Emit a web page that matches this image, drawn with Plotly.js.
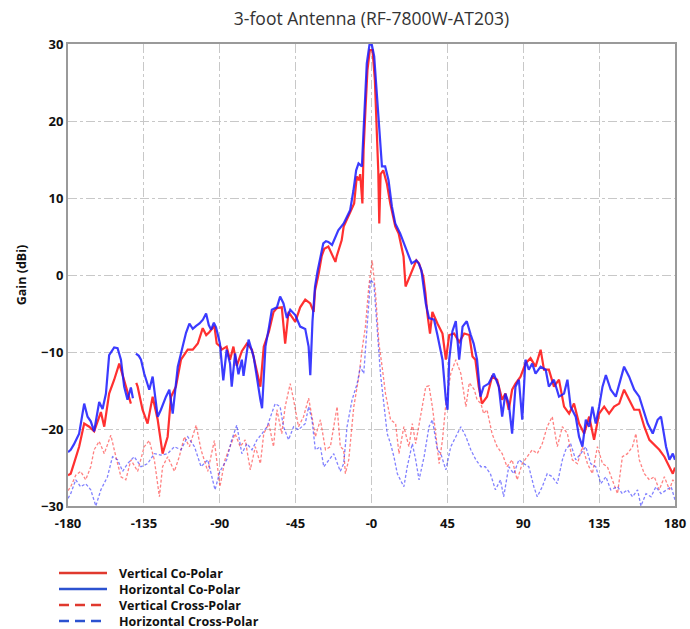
<!DOCTYPE html>
<html>
<head>
<meta charset="utf-8">
<script src="https://cdn.plot.ly/plotly-3.0.1.min.js"></script>
<style>html,body{margin:0;padding:0;background:#fff;}#chart{width:690px;height:629px;}</style>
</head>
<body>
<div id="chart"></div>
<script>
// ---- Data (angle in degrees, gain in dBi) ----
const seriesNames = ["Vertical Co-Polar", "Horizontal Co-Polar", "Vertical Cross-Polar", "Horizontal Cross-Polar"];

const hcoAngle = [-180,-178.4,-176.5,-173.4,-170.4,-168.4,-166.5,-164.5,-161.5,-159.5,-157.5,-155.6,-152.6,-150.6,-148.6,-146.7,-144.7,-142.7,-141.5,-140.5,-139.7,-138,-136.7,-134.8,-131.8,-129.8,-126.8,-124.9,-121.9,-119.9,-117.9,-114.9,-112,-110,-108,-106,-104,-102,-100,-98.1,-96.5,-95.1,-93.5,-92.2,-89.9,-87.9,-85.9,-83.9,-82.9,-80.9,-78.9,-76.9,-75.9,-72.9,-69.9,-67.9,-65.9,-64.9,-62.9,-60.9,-59.1,-56.1,-54.2,-52.2,-50.2,-48.2,-45.2,-42.3,-39.3,-37.3,-36.3,-35,-33.5,-32,-30,-28.6,-27,-25.6,-23.4,-22,-19.7,-16.5,-14.7,-12.7,-10.7,-9.1,-7.7,-5.7,-4.7,-3.8,-2.8,-1.2,0.2,1.6,3.2,4.8,6.2,8.1,10.1,12.1,14.1,17,20,22,23.8,26.6,28,29.6,31,32.2,34.1,37.1,39.1,42.1,44.1,45.1,46.1,48,50,52,54,56.5,58.9,60.6,62.6,64.6,66.5,69.5,72.5,75.5,77.5,79.4,81.4,83.4,85.4,87.4,89.4,91.3,93.3,95.3,97.3,100.3,103.3,105.2,108.2,111.2,114.2,116.2,118.1,121.1,123.1,125.1,127.1,129.1,131,133,135,137,139,141.9,144.9,147.5,149.8,152.8,155.8,158.8,160.8,163.8,166.8,169.7,171.7,174.7,176.7,178.7,180];
const hcoGain = [-23,-22.7,-22,-20.6,-16.7,-18.4,-19,-20.3,-16.5,-17.4,-15.4,-10.4,-9.4,-9.5,-11,-14.5,-16.2,-14.6,-16,null,-10.2,-10.5,-11,-12.8,-14.9,-13.2,-18.4,-17.5,-15.8,-14.9,-18,-11.9,-9.3,-7.5,-6.3,-7,-6.6,-6.3,-5.8,-5,-6.5,-7.1,-6.2,-6.8,-8.9,-13.7,-9.7,-11.5,-14.5,-10.2,-12.9,-11,-13.1,-8.4,-10.6,-13.7,-16.2,-17.3,-9.3,-6.9,-4.5,-4.2,-2.8,-3.7,-5.6,-4.5,-5.2,-6.7,-7,-9.3,-13,-6,-1.5,0.5,2.5,4.1,4.4,4.3,3.9,4.7,5.8,6.7,7.6,8.4,11,13.6,14.5,14.1,18.8,23.2,27.5,29.9,29.9,28.4,23.2,17.5,14.1,14.1,12.3,8.9,6.7,5.4,3.7,2.5,1.5,1.9,1.5,0.6,-1.5,-3.7,-5.6,-5.8,-7.8,-11,-16.2,-17.5,-11,-7.3,-6,-11,-6.7,-6,-7.8,-8.9,-11,-15.8,-14.5,-14.1,-12.8,-14.5,-18.4,-15.4,-16.7,-20.6,-14.5,-13.6,-18.8,-11,-12.3,-11.5,-12.8,-11.9,-12.3,-14.5,-13.6,-15.8,-15.4,-13.6,-17.1,-18.4,-21,-22.3,-18.8,-19.7,-17.1,-19.3,-17.1,-14.5,-13,-14.9,-15.8,-13.6,-11.9,-13.2,-14.9,-15.8,-17.1,-19.3,-20.6,-18.8,-18.4,-22.3,-24,-23.2,-24];

const vcoAngle = [-180,-178.4,-176.5,-173.4,-170.4,-167.4,-164.5,-160.5,-158.5,-155.6,-152.6,-149.6,-147.6,-144.7,-142.7,-141.5,-139.5,-138.7,-135.8,-132.8,-129.8,-126.8,-123.9,-120.9,-118.9,-116,-113,-109,-106,-103,-100.1,-98,-96.1,-93.2,-91.8,-89.6,-88.9,-85.9,-83.9,-81.9,-79.9,-76.9,-73.9,-70.9,-67.9,-65.9,-63.9,-60.9,-58.1,-56.1,-53.2,-51.2,-49.2,-45.2,-42.3,-39.3,-36.3,-34.3,-33.5,-31.5,-29.5,-28,-25.6,-23.5,-21.4,-20.7,-17.7,-16.5,-14.7,-12.5,-10.3,-8.7,-7.5,-6.7,-5.4,-4.7,-3.6,-2.4,-1,0.6,2,3,4,4.6,5.4,7,9.1,11.1,14.1,16.1,18,19,20.2,22.8,24.2,26.6,28.2,30.7,32,33.1,34.7,36.1,39.1,42.1,44.1,46.1,49,52,55,58,59.9,61.6,63.6,65.5,68.5,71.5,74.5,77.5,79.4,81.4,83.4,85.4,88.4,91.3,94.3,97.3,100.3,102.3,105.2,108.2,111.2,114.2,117.2,120.1,123.1,126.1,129.1,132,135,138,140.9,143.9,146.9,149.8,152.8,155.8,158.8,161.8,164.8,167.7,170.7,173.7,176.7,178.7,180];
const vcoGain = [-26,-25.8,-24.5,-22.3,-19.3,-19.7,-20.3,-17.8,-19.7,-15.4,-13.6,-11.5,-13,-15.2,-16.7,null,-14,-14.5,-17.5,-19.3,-15.8,-18.8,-23.2,-21,-15.8,-14.5,-11,-9.7,-9.7,-8.9,-6.9,-7.8,-7.4,-6.6,-8.9,-9.3,-9.7,-9.3,-11,-9.3,-11.8,-9.9,-8.9,-9.7,-12.6,-14.5,-9.3,-7.4,-4.8,-4.3,-4.2,-8.9,-4.8,-6.1,-4.2,-3.2,-3.7,-4.8,-2,0,2.5,3.4,3.7,2.8,1.7,2.4,4.5,6.3,7.1,8.2,9.3,12.8,12.3,13.1,9.3,16.2,21.4,26.6,29.2,29.2,25.3,18.8,13.6,6.7,13.1,13.6,11.9,9.3,6.3,5.4,3.7,2.4,-1.5,-0.2,0.6,1.9,1.5,-0.2,-2.4,-5,-7.6,-4.8,-6.3,-7.6,-11,-7.8,-7.6,-8.7,-7.6,-7.8,-10.6,-11,-14.5,-16.7,-15.8,-13.2,-13.6,-16.2,-15.4,-17.5,-14.9,-14.1,-13.2,-11.5,-10.8,-11.9,-9.7,-12.3,-12.3,-14.5,-13.6,-17.1,-18,-16.7,-19.3,-20.6,-18.4,-21.4,-18,-17.1,-18,-17.1,-16.7,-14.9,-16.2,-17.5,-17.5,-19.7,-21.4,-22,-22.7,-23.6,-24.9,-25.8,-25];

const vxAngle = [-180,-178.4,-175.4,-172.5,-169.5,-166.5,-164.5,-161.5,-158.5,-154.6,-151.6,-148.6,-145.7,-142.7,-138.7,-134.8,-131.8,-128.8,-125.8,-123.9,-120.9,-116.9,-114,-111,-108,-104,-101.1,-97.1,-93.2,-89.9,-86.9,-83.9,-80.9,-77.9,-74.9,-71.9,-68.9,-65.9,-63.9,-60.9,-58.1,-56.1,-53.2,-51.2,-48.2,-46.2,-43.3,-40.3,-37.3,-35.3,-33.3,-30.3,-27.3,-24.4,-20.4,-18.5,-16.5,-15.5,-13.5,-10.5,-7.5,-5.6,-3.6,-1.6,0.4,2.4,4.4,6.3,8.3,11.3,14.3,16.3,19.2,22.2,24.2,26.2,29.2,32.2,34.1,36.1,38.1,40.1,42.1,44.1,47,50,53,56,58,61,62.6,64.9,66.5,68.5,71.5,74.5,77.5,80.4,83.4,86.4,89.4,92.3,95.3,98.3,101.3,104.2,107.2,110.2,113.2,116.2,119.1,122.1,125.1,128.1,131,134,137,139.9,142.9,145.9,148.8,151.8,154.8,156.8,158.8,161.8,164.8,167.7,170.7,173.7,176.7,178.7,180];
const vxGain = [-28,-27.5,-26,-25.5,-26.6,-24.9,-22.7,-21.6,-23.2,-20.8,-23.6,-26.2,-26.6,-24,-25.5,-22.3,-21.5,-24,-28.8,-24.9,-23.6,-25.5,-23.6,-21,-22.3,-19.5,-22.7,-25.5,-21.5,-27.5,-24,-22.3,-20.6,-22.3,-21.4,-25.3,-22.3,-24.5,-20.6,-19.3,-22.3,-17.5,-20.6,-17.1,-14.1,-16.2,-19.7,-18.4,-16,-18.4,-21,-18.8,-22.7,-22.3,-17.1,-22.3,-22.7,-25.8,-24,-17.1,-13.2,-9.7,-6.7,-1.5,1.9,-2.4,-8.9,-11.9,-15.4,-18.8,-19.3,-23.2,-19.7,-22.3,-19.3,-21.9,-18,-14.5,-14.4,-17.1,-20.6,-24.5,-21.4,-16.7,-12.8,-11,-12.8,-17.1,-14,-14.9,-16.2,-16.7,-18,-17.5,-20.6,-22.3,-23.2,-24.9,-24,-26.6,-24.5,-23.6,-22.7,-23.2,-21.9,-19.7,-18.4,-22.3,-19.7,-20.6,-24,-24.5,-22.3,-24.5,-25.8,-22.3,-24.5,-24.9,-26.6,-28.4,-23.6,-23.2,-22.3,-20.6,-24,-25.8,-26.6,-26.2,-27.9,-26.2,-27.9,-26.6,-27];

const hxAngle = [-180,-178.4,-175.4,-172.5,-169.5,-166.5,-163.5,-160.5,-156.6,-153.6,-150.6,-147.6,-144.7,-140.7,-136.7,-132.8,-128.8,-124.9,-120.9,-116.9,-113,-109,-105,-101.1,-97.1,-95.8,-92.8,-89.9,-85.9,-82.9,-79.9,-76.9,-73.9,-70.9,-67.9,-64.9,-61.9,-59.1,-57.1,-54.2,-52.2,-49.2,-46.2,-43.3,-39.3,-37.3,-35.3,-33.3,-30.3,-28.3,-25.4,-22.4,-18.5,-16.5,-14.5,-11.5,-8.5,-6.6,-4.6,-2.6,-0.6,1.4,3.4,5.3,7.3,9.3,11.3,13.3,15.3,17.3,19.2,21.2,24.2,26.2,28.2,31.2,34.1,36.1,39.1,41.1,44.1,47,50,53,56,58.9,61.9,64.9,67.5,70.5,73.5,76.5,78.4,81.4,84.4,87.4,90.3,93.3,96.3,98.3,101.3,104.2,107.2,110.2,113.2,115.2,118.1,121.1,124.1,127.1,130,133,136,139,141.9,145.9,148.8,151.8,154.8,157.8,159.8,162.8,165.8,168.7,171.7,174.7,177.7,180];
const hxGain = [-29,-28.4,-26.6,-27.5,-27.1,-27.9,-30,-27.9,-26.2,-23.6,-24,-25.5,-24.5,-23.6,-24.9,-24.5,-23.2,-23.4,-23.2,-22.3,-22.7,-21,-22.3,-24.9,-24,-25.3,-27.9,-25.5,-24,-21.4,-19.5,-23.2,-21.9,-22.7,-21.4,-20.6,-19.7,-17.9,-16.7,-17.1,-19.7,-21.4,-19.7,-20.1,-19.3,-17.1,-18.8,-22.7,-22.3,-24.9,-24,-23.2,-25.5,-24.5,-19.7,-16.2,-14.1,-11.9,-12.8,-6.3,-0.6,-1.1,-6.7,-12.8,-16.7,-20.6,-21.9,-23.6,-25.8,-26.6,-27.5,-24.9,-21.9,-24,-26.6,-23.6,-19.7,-18.8,-22.7,-23.2,-25.3,-22.3,-21,-19.7,-21,-22.7,-24,-24.9,-24.9,-25.8,-27.9,-26.6,-28.8,-24.9,-25.8,-24,-24.5,-24.9,-27.5,-28.8,-27.5,-25.8,-26.2,-27.1,-24,-22.7,-21.9,-24,-23.2,-22.3,-24.5,-24.9,-27.1,-26.2,-27.9,-27.5,-28.4,-27.9,-28.8,-27.9,-30,-28.4,-28.8,-27.5,-28.4,-27.9,-27.5,-29.2];

const xTickVals = [-180,-135,-90,-45,0,45,90,135,180];
const xTickText = ["-180","-135","-90","-45","-0","45","90","135","180"];
const yTickVals = [-30,-20,-10,0,10,20,30];

// ---- Styles ----
const RED = "#ff1a1a", BLUE = "#1a1aff";
const LEG_RED = "#e0392e", LEG_BLUE = "#2c52d0";
const FONT = "'Open Sans', 'Noto Sans', sans-serif";

const traces = [
  {x: vxAngle, y: vxGain, name: seriesNames[2], mode: "lines", line: {color: RED, width: 1.3, dash: "3px,2px"}, opacity: 0.55},
  {x: hxAngle, y: hxGain, name: seriesNames[3], mode: "lines", line: {color: BLUE, width: 1.3, dash: "3px,2px"}, opacity: 0.55},
  {x: vcoAngle, y: vcoGain, name: seriesNames[0], mode: "lines", line: {color: RED, width: 2.2}, opacity: 0.9},
  {x: hcoAngle, y: hcoGain, name: seriesNames[1], mode: "lines", line: {color: BLUE, width: 2.2}, opacity: 0.85}
];

const L = 68, R = 15, T = 44, B = 123;
const W = 690, H = 629;
const pw = W - L - R, ph = H - T - B;
const px2x = p => (p - L) / pw;
const py2y = p => (H - B - p) / ph;

const legendColors = [LEG_RED, LEG_BLUE, LEG_RED, LEG_BLUE];
const legendDash = ["solid", "solid", "dash", "dash"];
const shapes = [], annotations = [];
seriesNames.forEach((nm, i) => {
  const yy = py2y(573 + i * 16);
  shapes.push({type: "line", xref: "paper", yref: "paper", x0: px2x(59), x1: px2x(107), y0: yy, y1: yy,
    line: {color: legendColors[i], width: 2.5, dash: legendDash[i] === "dash" ? "10px,6px" : "solid"}});
  annotations.push({xref: "paper", yref: "paper", x: px2x(117), y: yy, xanchor: "left", yanchor: "middle",
    text: nm, showarrow: false, font: {family: FONT, size: 12.5, color: "#111", weight: "bold"}});
});

const layout = {
  width: W, height: H,
  margin: {l: L, r: R, t: T, b: B},
  paper_bgcolor: "#fff", plot_bgcolor: "#fff",
  showlegend: false,
  title: {text: "3-foot Antenna (RF-7800W-AT203)", x: 0.5, xref: "paper", y: 1 - 19 / H, yref: "container", yanchor: "middle",
    font: {family: FONT, size: 17.5, color: "#333"}},
  xaxis: {range: [-180, 180], tickvals: xTickVals, ticktext: xTickText, showgrid: true, gridcolor: "#c8c8c8", griddash: "dashdot", gridwidth: 1,
    showline: true, mirror: true, linecolor: "#9a9a9a", linewidth: 2, zeroline: false, ticks: "", ticklen: 0, ticklabelstandoff: 4,
    tickfont: {family: FONT, size: 13, color: "#111", weight: "bold"}},
  yaxis: {range: [-30, 30], tickvals: yTickVals, showgrid: true, gridcolor: "#c8c8c8", griddash: "dashdot", gridwidth: 1,
    showline: true, mirror: true, linecolor: "#9a9a9a", linewidth: 2, zeroline: false, ticks: "",
    tickfont: {family: FONT, size: 13, color: "#111", weight: "bold"},
    title: {text: "Gain (dBi)", standoff: 12, font: {family: FONT, size: 12.5, color: "#111", weight: "bold"}}},
  shapes: shapes,
  annotations: annotations
};

Plotly.newPlot("chart", traces, layout, {displayModeBar: false, staticPlot: true});
</script>
</body>
</html>
